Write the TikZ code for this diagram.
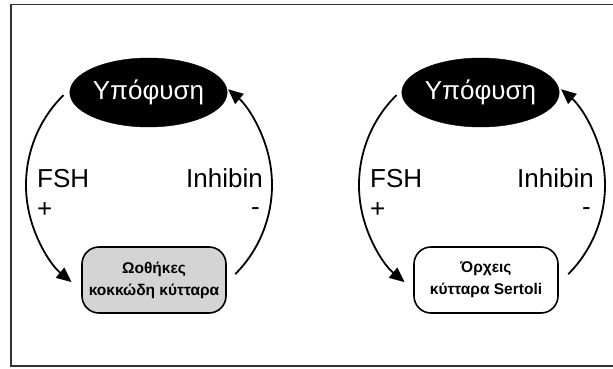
\documentclass[tikz,border=0pt]{standalone}
\usepackage{fontspec}
\setmainfont{Liberation Sans}
\usetikzlibrary{shapes.geometric,arrows.meta,calc}
\begin{document}
\begin{tikzpicture}[x=1pt,y=1pt,
  frame/.style={draw=black!80, line width=1.6pt},
  hyp/.style={ellipse, fill=black, draw=black, minimum width=137pt, minimum height=69pt, inner sep=0pt, text=white, font=\fontsize{26}{30}\selectfont},
  cellbox/.style={rectangle, rounded corners=17pt, draw=black, line width=1.6pt, minimum width=144pt, minimum height=66pt, align=center, font=\bfseries\fontsize{15.5}{22}\selectfont, inner sep=0pt},
  lbl/.style={font=\fontsize{26}{30}\selectfont, inner sep=0pt},
  loop/.style={line width=1.8pt, -{Triangle[length=15pt,width=13pt]}}
]
\useasboundingbox (0,0) rectangle (613,368);
\draw[frame] (614,363.5) -- (11,363.5) -- (11,2) -- (614,2);

% left panel
\node[hyp] (pit1) at (148.5,275.5) {Υπόφυση};
\node[cellbox, fill=black!17] (ov) at (154,88) {Ωοθήκες\\κοκκώδη κύτταρα};
\coordinate (c1) at (149,183);
\coordinate (s1) at ($(c1)+(134:123pt and 125pt)$);
\coordinate (s2) at ($(c1)+(-45.5:123pt and 125pt)$);
\draw[loop] (s1) arc[start angle=134, end angle=231, x radius=123pt, y radius=125pt];
\draw[loop] (s2) arc[start angle=-45.5, end angle=50, x radius=123pt, y radius=125pt];
\node[lbl, anchor=base west] (fsh1) at (37,181) {FSH};
\node[lbl, anchor=base west] (plus1) at (37,151) {+};
\node[lbl, anchor=base east] (inh1) at (263,181) {Inhibin};
\node[lbl, anchor=base east] (minus1) at (260,153) {-};

% right panel
\node[hyp] (pit2) at (480.5,275.5) {Υπόφυση};
\node[cellbox, fill=white] (te) at (486,88) {Όρχεις\\κύτταρα Sertoli};
\coordinate (c2) at (482,183);
\coordinate (t1) at ($(c2)+(134:123pt and 125pt)$);
\coordinate (t2) at ($(c2)+(-45.5:123pt and 125pt)$);
\draw[loop] (t1) arc[start angle=134, end angle=231, x radius=123pt, y radius=125pt];
\draw[loop] (t2) arc[start angle=-45.5, end angle=50, x radius=123pt, y radius=125pt];
\node[lbl, anchor=base west] (fsh2) at (370,181) {FSH};
\node[lbl, anchor=base west] (plus2) at (370,151) {+};
\node[lbl, anchor=base east] (inh2) at (594,181) {Inhibin};
\node[lbl, anchor=base east] (minus2) at (591,153) {-};
\end{tikzpicture}
\end{document}
